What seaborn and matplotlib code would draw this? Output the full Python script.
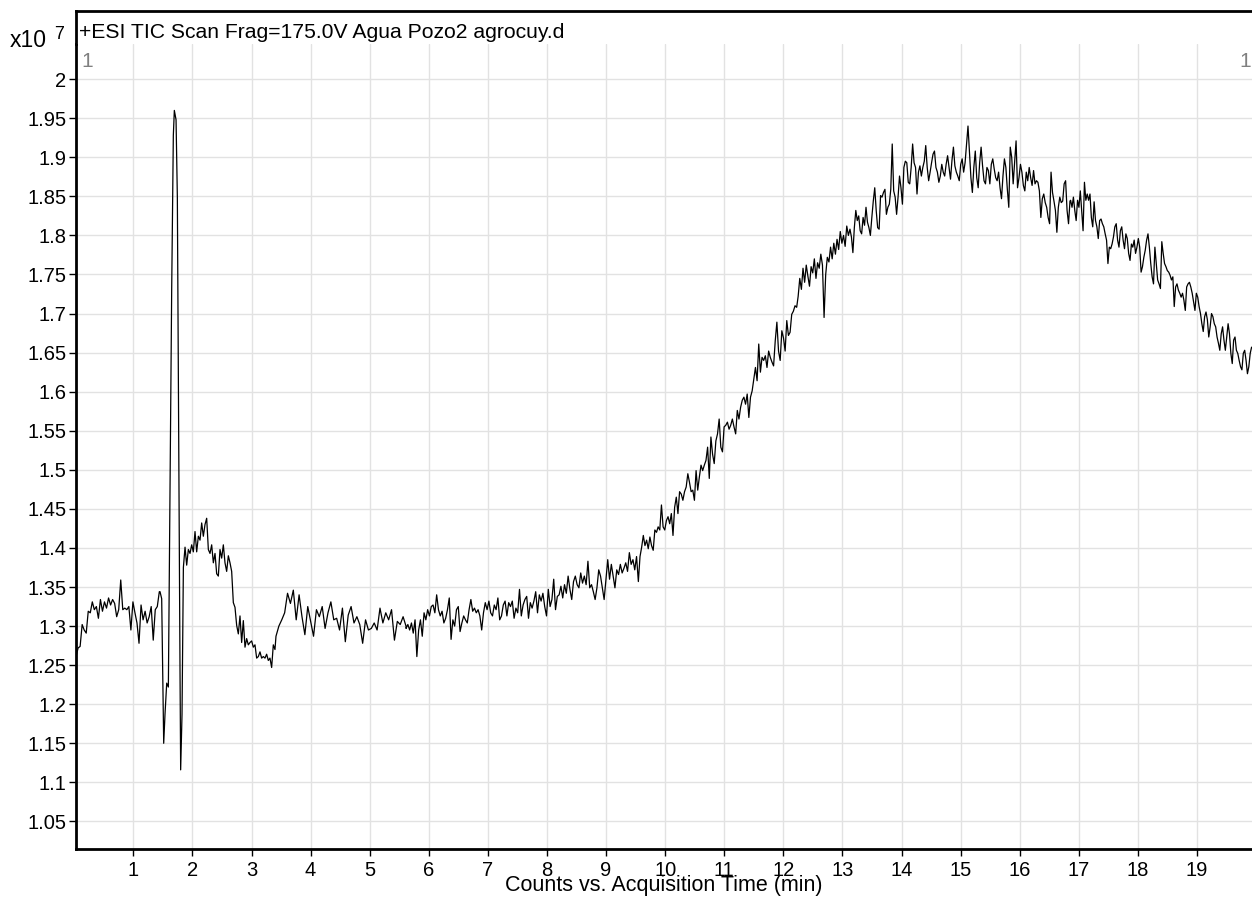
import numpy as np
import pandas as pd
import matplotlib
matplotlib.use("Agg")
import matplotlib.pyplot as plt
from matplotlib.ticker import FuncFormatter
import seaborn as sns

# Total ion chromatogram, intensity in units of 1e7 counts.
# Each stretch of scans: (start min, end min, intensities at evenly spaced scans)
lead_start, lead_end = 0.031, 1.44
lead_counts = [1.261, 1.272, 1.274, 1.302, 1.295, 1.291, 1.319, 1.317, 1.331, 1.321,
               1.325, 1.310, 1.334, 1.319, 1.331, 1.323, 1.336, 1.327, 1.334, 1.329,
               1.312, 1.321, 1.359, 1.321, 1.323, 1.321, 1.325, 1.295, 1.331, 1.317,
               1.304, 1.278, 1.327, 1.308, 1.319, 1.304, 1.312, 1.325, 1.282, 1.321,
               1.325, 1.344]

# Void-volume disturbance (scan times read individually)
void_times = [1.452, 1.480, 1.514, 1.536, 1.565, 1.593, 1.621, 1.649, 1.677, 1.694,
              1.723, 1.745, 1.768, 1.790, 1.801, 1.824, 1.847, 1.875]
void_counts = [1.344, 1.335, 1.150, 1.187, 1.227, 1.222, 1.472, 1.729, 1.928, 1.960,
               1.948, 1.849, 1.529, 1.244, 1.116, 1.187, 1.375, 1.401]

hump_start, hump_end = 1.903, 3.397
hump_counts = [1.378, 1.398, 1.393, 1.404, 1.395, 1.421, 1.395, 1.415, 1.410, 1.432,
               1.415, 1.430, 1.438, 1.398, 1.393, 1.404, 1.381, 1.393, 1.367, 1.364,
               1.398, 1.387, 1.404, 1.381, 1.370, 1.390, 1.381, 1.370, 1.330, 1.324,
               1.301, 1.290, 1.313, 1.279, 1.307, 1.273, 1.284, 1.276, 1.279, 1.281,
               1.273, 1.276, 1.259, 1.261, 1.267, 1.259, 1.261, 1.259, 1.264, 1.256,
               1.259, 1.247, 1.276, 1.270]

flat_start, flat_end = 3.414, 5.614
flat_counts = [1.287, 1.300, 1.308, 1.317, 1.342, 1.329, 1.346, 1.308, 1.340, 1.312,
               1.289, 1.325, 1.306, 1.287, 1.321, 1.312, 1.325, 1.297, 1.317, 1.331,
               1.308, 1.310, 1.295, 1.323, 1.280, 1.314, 1.325, 1.304, 1.312, 1.302,
               1.278, 1.308, 1.295, 1.297, 1.304, 1.295, 1.323, 1.304, 1.317, 1.308,
               1.321, 1.282, 1.306, 1.302, 1.312, 1.300]

drift_start, drift_end = 5.615, 9.546
drift_counts = [1.297, 1.302, 1.295, 1.304, 1.291, 1.308, 1.261, 1.295, 1.308, 1.287,
                1.317, 1.308, 1.321, 1.313, 1.325, 1.327, 1.317, 1.340, 1.321, 1.313,
                1.319, 1.304, 1.310, 1.321, 1.336, 1.283, 1.308, 1.300, 1.321, 1.325,
                1.293, 1.304, 1.313, 1.308, 1.304, 1.321, 1.334, 1.319, 1.323, 1.317,
                1.321, 1.313, 1.295, 1.317, 1.330, 1.321, 1.332, 1.317, 1.313, 1.327,
                1.321, 1.336, 1.308, 1.313, 1.327, 1.332, 1.313, 1.330, 1.325, 1.332,
                1.310, 1.323, 1.317, 1.347, 1.313, 1.327, 1.334, 1.338, 1.310, 1.330,
                1.323, 1.332, 1.344, 1.317, 1.340, 1.332, 1.342, 1.325, 1.313, 1.347,
                1.325, 1.334, 1.360, 1.321, 1.338, 1.340, 1.351, 1.336, 1.353, 1.342,
                1.364, 1.347, 1.334, 1.357, 1.364, 1.353, 1.349, 1.368, 1.355, 1.364,
                1.353, 1.383, 1.349, 1.353, 1.344, 1.334, 1.349, 1.372, 1.364, 1.349,
                1.334, 1.360, 1.385, 1.360, 1.379, 1.364, 1.349, 1.372, 1.366, 1.379,
                1.368, 1.374, 1.381, 1.370, 1.394, 1.379, 1.385, 1.372, 1.389, 1.357]

rise_start, rise_end = 9.574, 12.225
rise_counts = [1.389, 1.401, 1.416, 1.403, 1.410, 1.399, 1.414, 1.403, 1.397, 1.423,
               1.420, 1.427, 1.423, 1.455, 1.427, 1.423, 1.435, 1.440, 1.431, 1.444,
               1.416, 1.452, 1.465, 1.444, 1.472, 1.469, 1.461, 1.472, 1.478, 1.495,
               1.484, 1.472, 1.474, 1.461, 1.499, 1.474, 1.491, 1.506, 1.499, 1.506,
               1.512, 1.529, 1.489, 1.542, 1.520, 1.508, 1.537, 1.546, 1.565, 1.529,
               1.523, 1.555, 1.557, 1.561, 1.552, 1.557, 1.565, 1.555, 1.546, 1.576,
               1.565, 1.580, 1.589, 1.593, 1.584, 1.597, 1.567, 1.593, 1.601, 1.616,
               1.631, 1.614, 1.661, 1.625, 1.644, 1.640, 1.646, 1.631, 1.652, 1.644,
               1.638, 1.633, 1.665, 1.689, 1.652, 1.640, 1.678, 1.669, 1.652, 1.691,
               1.672, 1.676, 1.699, 1.703, 1.710, 1.708]

bend_start, bend_end = 12.25, 13.10
bend_counts = [1.722, 1.745, 1.731, 1.758, 1.740, 1.762, 1.748, 1.735, 1.760, 1.752,
               1.770, 1.745, 1.765, 1.758, 1.776, 1.762, 1.695, 1.750, 1.772, 1.766,
               1.785, 1.770, 1.790, 1.776, 1.795, 1.782, 1.805, 1.790, 1.800, 1.786,
               1.812, 1.800]

crest_start, crest_end = 13.127, 16.85
crest_counts = [1.808, 1.798, 1.778, 1.810, 1.832, 1.819, 1.825, 1.806, 1.802, 1.823,
                1.813, 1.836, 1.817, 1.810, 1.800, 1.823, 1.844, 1.861, 1.832, 1.810,
                1.808, 1.851, 1.849, 1.855, 1.859, 1.827, 1.836, 1.840, 1.859, 1.917,
                1.857, 1.849, 1.827, 1.849, 1.876, 1.861, 1.840, 1.887, 1.895, 1.893,
                1.868, 1.866, 1.887, 1.917, 1.893, 1.887, 1.853, 1.881, 1.889, 1.876,
                1.887, 1.895, 1.915, 1.887, 1.870, 1.881, 1.893, 1.904, 1.908, 1.887,
                1.881, 1.868, 1.876, 1.891, 1.881, 1.876, 1.891, 1.902, 1.887, 1.872,
                1.896, 1.913, 1.889, 1.881, 1.876, 1.870, 1.891, 1.898, 1.881, 1.893,
                1.917, 1.940, 1.908, 1.874, 1.855, 1.887, 1.908, 1.874, 1.861, 1.893,
                1.913, 1.889, 1.870, 1.866, 1.887, 1.883, 1.866, 1.891, 1.898, 1.885,
                1.874, 1.870, 1.881, 1.861, 1.847, 1.876, 1.898, 1.887, 1.859, 1.836,
                1.913, 1.900, 1.866, 1.893, 1.921, 1.861, 1.874, 1.891, 1.881, 1.864,
                1.857, 1.881, 1.870, 1.887, 1.874, 1.864, 1.883, 1.866, 1.870, 1.868,
                1.857, 1.823, 1.847, 1.853, 1.842, 1.836, 1.823, 1.815, 1.881, 1.855,
                1.844, 1.832, 1.804, 1.836, 1.849, 1.842, 1.844, 1.866, 1.870, 1.832,
                1.815, 1.844]

tail_start, tail_end = 16.861, 19.923
tail_counts = [1.845, 1.836, 1.849, 1.832, 1.819, 1.845, 1.836, 1.857, 1.832, 1.806,
               1.868, 1.845, 1.853, 1.845, 1.853, 1.823, 1.811, 1.843, 1.819, 1.811,
               1.796, 1.819, 1.821, 1.815, 1.811, 1.802, 1.794, 1.764, 1.785, 1.783,
               1.789, 1.798, 1.811, 1.815, 1.794, 1.785, 1.806, 1.811, 1.794, 1.783,
               1.802, 1.796, 1.777, 1.768, 1.789, 1.785, 1.794, 1.777, 1.785, 1.796,
               1.785, 1.753, 1.760, 1.772, 1.781, 1.794, 1.802, 1.785, 1.764, 1.747,
               1.738, 1.785, 1.764, 1.743, 1.738, 1.732, 1.792, 1.777, 1.764, 1.760,
               1.755, 1.753, 1.749, 1.743, 1.747, 1.709, 1.734, 1.738, 1.730, 1.726,
               1.721, 1.726, 1.717, 1.704, 1.734, 1.738, 1.740, 1.734, 1.726, 1.715,
               1.704, 1.726, 1.721, 1.709, 1.700, 1.687, 1.677, 1.696, 1.702, 1.692,
               1.670, 1.683, 1.700, 1.696, 1.687, 1.683, 1.670, 1.662, 1.653, 1.674,
               1.683, 1.666, 1.653, 1.670, 1.687, 1.674, 1.649, 1.636, 1.666, 1.670,
               1.653, 1.649, 1.640, 1.632, 1.628, 1.649, 1.653, 1.640, 1.623, 1.632,
               1.649, 1.657]

x_ticks = list(range(1, 20))
y_ticks = [1.05, 1.10, 1.15, 1.20, 1.25, 1.30, 1.35, 1.40, 1.45, 1.50,
           1.55, 1.60, 1.65, 1.70, 1.75, 1.80, 1.85, 1.90, 1.95, 2.00]

title_text = "+ESI TIC Scan Frag=175.0V Agua Pozo2 agrocuy.d"
x_label = "Counts vs. Acquisition Time (min)"


def stretch(t0, t1, counts):
    return np.linspace(t0, t1, len(counts)), np.asarray(counts)


pieces = [
    stretch(lead_start, lead_end, lead_counts),
    (np.asarray(void_times), np.asarray(void_counts)),
    stretch(hump_start, hump_end, hump_counts),
    stretch(flat_start, flat_end, flat_counts),
    stretch(drift_start, drift_end, drift_counts),
    stretch(rise_start, rise_end, rise_counts),
    stretch(bend_start, bend_end, bend_counts),
    stretch(crest_start, crest_end, crest_counts),
    stretch(tail_start, tail_end, tail_counts),
]
tic = pd.DataFrame({
    "time": np.concatenate([p[0] for p in pieces]),
    "counts": np.concatenate([p[1] for p in pieces]),
})

sns.set_theme(style="whitegrid")
plt.rcParams["font.family"] = ["Liberation Sans", "DejaVu Sans"]

W, H = 1252, 898
fig = plt.figure(figsize=(W / 100, H / 100), dpi=100)

left_px, right_px, top_px, bottom_px, frame_px = 76, 1252, 44, 849, 11
ax = fig.add_axes([left_px / W, 1 - bottom_px / H,
                   (right_px - left_px) / W, (bottom_px - top_px) / H])
head = fig.add_axes([left_px / W, 1 - top_px / H,
                     (right_px - left_px) / W, (top_px - frame_px) / H])

sns.lineplot(data=tic, x="time", y="counts", ax=ax, color="black",
             linewidth=0.9, estimator=None, sort=False)

ax.set_xlim(0.03, 19.93)
ax.set_ylim(1.0147, 2.045)
ax.set_xticks(x_ticks)
ax.set_yticks(y_ticks)
ax.yaxis.set_major_formatter(FuncFormatter(
    lambda v, _: f"{v:.2f}".rstrip("0").rstrip(".")))
ax.set_xlabel(x_label, fontsize=15.5, labelpad=-4, color="black")
ax.set_ylabel("")
ax.set_facecolor("white")
ax.grid(True, color="#e2e2e2", linewidth=1.0)
ax.tick_params(axis="both", which="major", direction="out", length=5, width=1,
               color="black", labelsize=14.5, labelcolor="black",
               bottom=True, left=True)
ax.tick_params(axis="y", pad=2)
ax.tick_params(axis="x", pad=4)
for side in ("top", "right"):
    ax.spines[side].set_visible(False)
for side in ("left", "bottom"):
    ax.spines[side].set_visible(True)
    ax.spines[side].set_color("black")
    ax.spines[side].set_linewidth(2.0)

head.set_xticks([])
head.set_yticks([])
head.grid(False)
head.set_facecolor("white")
for side in ("bottom", "right"):
    head.spines[side].set_visible(False)
for side in ("top", "left"):
    head.spines[side].set_visible(True)
    head.spines[side].set_color("black")
    head.spines[side].set_linewidth(2.0)
head.text(3 / (right_px - left_px), 0.18, title_text, transform=head.transAxes,
          fontsize=15.2, color="black", ha="left", va="baseline")

# panel markers and exponent
fig.text(81 / W, 1 - 67 / H, "1", fontsize=15, color="#808080", ha="left", va="baseline")
fig.text(1251 / W, 1 - 67 / H, "1", fontsize=15, color="#808080", ha="right", va="baseline")
fig.text(10 / W, 1 - 47 / H, "x10", fontsize=16.5, color="black", ha="left", va="baseline")
fig.text(54 / W, 1 - 39 / H, "7", fontsize=13, color="black", ha="left", va="baseline")

fig.savefig("out.png", dpi=100)
